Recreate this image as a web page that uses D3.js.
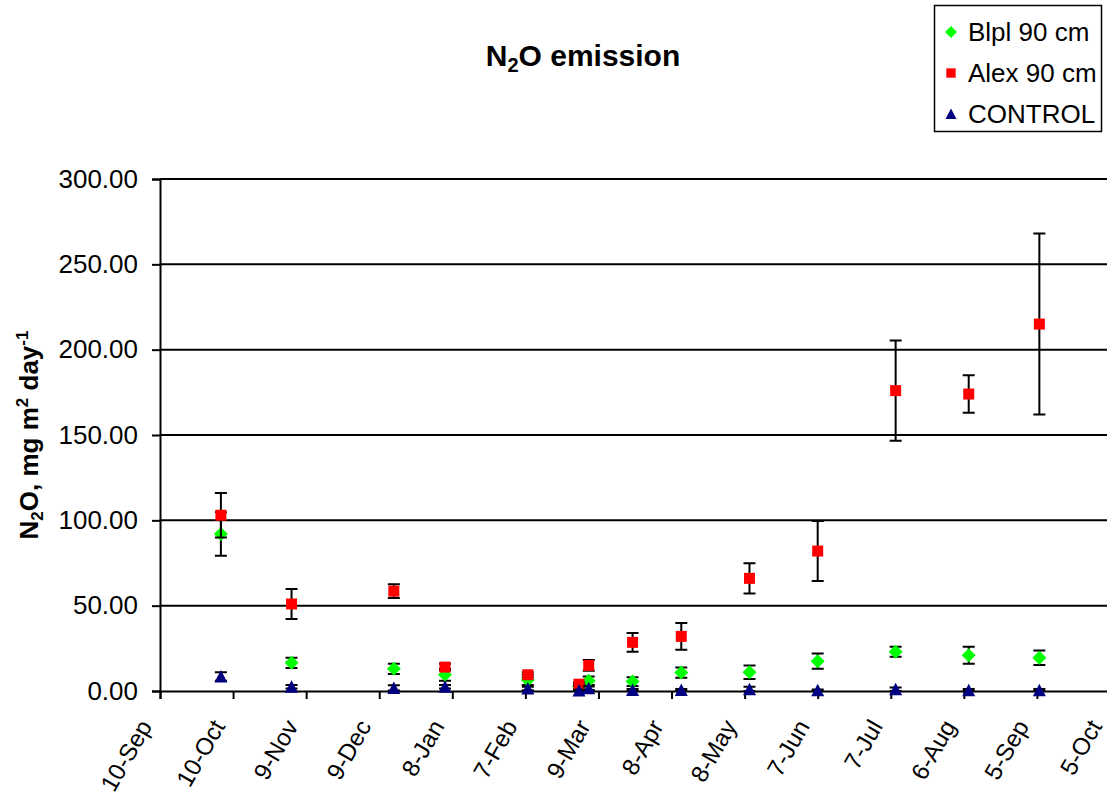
<!DOCTYPE html>
<html>
<head>
<meta charset="utf-8">
<script src="https://cdn.jsdelivr.net/npm/d3@7/dist/d3.min.js"></script>
<style>
    body { margin: 0; background: #fff; }
    svg { display: block; font-family: "Liberation Sans", Arial, sans-serif; }
</style>
</head>
<body>
<svg id="chart" width="1107" height="798"></svg>
<script>
// Sampling dates (day-month)
var sampleDates = ["2006-10-05", "2006-11-03", "2006-12-15", "2007-01-05",
    "2007-02-08", "2007-03-01", "2007-03-05", "2007-03-23", "2007-04-12",
    "2007-05-10", "2007-06-07", "2007-07-09", "2007-08-08", "2007-09-06"];

var blplValues = [92, 16.5, 13, 9.5, 6.5, 2.5, 6, 5.5, 10.8, 11, 17.5, 23, 21, 19.5];
var blplErrors = [12.8, 3, 3, 3.5, 3, 1.5, 2.5, 2.5, 3, 4, 4.5, 3, 5, 4.2];

var alexValues = [103, 51, 58.5, 14, 9.5, 4, 15, 28.5, 32, 66, 82, 176, 174, 215];
var alexErrors = [13, 8.8, 4, 2, 1.5, 1, 3.2, 5.5, 7.8, 8.8, 17.6, 29.3, 11, 53];

var controlValues = [8.5, 2.5, 1.8, 2.5, 1.5, 0.3, 1.6, 0.6, 0.6, 1, 0.4, 1, 0.4, 0.4];
var controlErrors = [2.5, 1, 1.5, 1, 1, 0.5, 1, 0.5, 0.5, 1.5, 0.5, 1, 0.8, 0.8];

var seriesNames = ["Blpl 90 cm", "Alex 90 cm", "CONTROL"];

// x axis: a tick every 30 days starting 10-Sep
var xTickStart = "2006-09-10",
    xTickStep = 30,
    xTickCount = 14;
var yTicks = [0, 50, 100, 150, 200, 250, 300];

var parseDate = d3.timeParse("%Y-%m-%d");
var formatTick = d3.timeFormat("%-d-%b");

var svg = d3.select("#chart");

var margin = { left: 160, right: 1110, top: 179, bottom: 691 };

var start = parseDate(xTickStart);
var xTickValues = d3.range(xTickCount).map(function(i) {
    return d3.timeDay.offset(start, i * xTickStep);
});

var x = d3.scaleTime()
    .domain([xTickValues[0], xTickValues[xTickValues.length - 1]])
    .range([margin.left, margin.right]);

var y = d3.scaleLinear()
    .domain([0, 300])
    .range([margin.bottom, margin.top]);

// Marker shapes, centred on (0, 0)
var markerPath = function(shape) {
    switch (shape) {
        case 'diamond': {
            return "M0,-7L7,0L0,7L-7,0Z";
        }
        case 'square': {
            return "M-5.5,-5.5H5.5V5.5H-5.5Z";
        }
        case 'triangle': {
            return "M0,-6.5L6.5,6L-6.5,6Z";
        }
        default: {
            return "";
        }
    }
};

var series = [
    { name: seriesNames[0], values: blplValues, errors: blplErrors,
      color: "#00ff00", shape: 'diamond' },
    { name: seriesNames[1], values: alexValues, errors: alexErrors,
      color: "#ff0000", shape: 'square' },
    { name: seriesNames[2], values: controlValues, errors: controlErrors,
      color: "#000080", shape: 'triangle' }
];

// Gridlines
svg.append("g")
    .selectAll("line")
    .data(yTicks.filter(function(d) { return d > 0; }))
    .enter().append("line")
        .attr("x1", margin.left)
        .attr("x2", margin.right)
        .attr("y1", function(d) { return y(d); })
        .attr("y2", function(d) { return y(d); })
        .attr("stroke", "#000")
        .attr("stroke-width", 2);

// Y axis
var yAxis = svg.append("g")
    .attr("transform", "translate(" + margin.left + ",0)")
    .call(d3.axisLeft(y)
        .tickValues(yTicks)
        .tickSize(8)
        .tickPadding(14)
        .tickFormat(d3.format(".2f")));
yAxis.select(".domain").attr("stroke-width", 2);
yAxis.selectAll(".tick line").attr("stroke-width", 2);
yAxis.selectAll("text")
    .attr("font-size", 26)
    .attr("font-family", "Liberation Sans, Arial, sans-serif")
    .attr("fill", "#000");

// X axis
var xAxis = svg.append("g")
    .attr("transform", "translate(0," + margin.bottom + ")")
    .call(d3.axisBottom(x)
        .tickValues(xTickValues)
        .tickSize(8)
        .tickFormat(formatTick));
xAxis.select(".domain").attr("stroke-width", 2);
xAxis.selectAll(".tick line").attr("stroke-width", 2);
// rotated labels, ending just left of their tick
xAxis.selectAll("text")
    .attr("font-size", 24)
    .attr("font-family", "Liberation Sans, Arial, sans-serif")
    .attr("fill", "#000")
    .attr("text-anchor", "end")
    .attr("x", -15)
    .attr("y", 31)
    .attr("dy", "0.35em")
    .attr("transform", "rotate(-60,-15,31)");

// Series: error bars first, then markers on top
series.forEach(function(s) {
    var g = svg.append("g").attr("class", "series");
    var pts = sampleDates.map(function(d, i) {
        return { date: parseDate(d), value: s.values[i], error: s.errors[i] };
    });

    g.selectAll(".err")
        .data(pts)
        .enter().append("path")
            .attr("class", "err")
            .attr("fill", "none")
            .attr("stroke", "#000")
            .attr("stroke-width", 2)
            .attr("d", function(d) {
                var cx = x(d.date),
                    top = y(d.value + d.error),
                    bot = y(Math.max(0, d.value - d.error));
                return "M" + (cx - 6) + "," + top + "H" + (cx + 6) +
                    "M" + cx + "," + top + "V" + bot +
                    "M" + (cx - 6) + "," + bot + "H" + (cx + 6);
            });

    g.selectAll(".marker")
        .data(pts)
        .enter().append("path")
            .attr("class", "marker")
            .attr("d", markerPath(s.shape))
            .attr("fill", s.color)
            .attr("transform", function(d) {
                return "translate(" + x(d.date) + "," + y(d.value) + ")";
            });
});

// Title with subscript
var title = svg.append("text")
    .attr("x", 583)
    .attr("y", 66)
    .attr("text-anchor", "middle")
    .attr("font-size", 30)
    .attr("font-weight", "bold");
title.append("tspan").text("N");
title.append("tspan").attr("font-size", 20).attr("dy", 6).text("2");
title.append("tspan").attr("dy", -6).text("O emission");

// Y axis title, rotated
var yTitle = svg.append("text")
    .attr("transform", "translate(38,435) rotate(-90)")
    .attr("text-anchor", "middle")
    .attr("font-size", 26)
    .attr("font-weight", "bold");
yTitle.append("tspan").text("N");
yTitle.append("tspan").attr("font-size", 17).attr("dy", 5).text("2");
yTitle.append("tspan").attr("dy", -5).text("O, mg m");
yTitle.append("tspan").attr("font-size", 17).attr("dy", -10).text("2");
yTitle.append("tspan").attr("dy", 10).text(" day");
yTitle.append("tspan").attr("font-size", 17).attr("dy", -10).text("-1");

// Legend
var legend = svg.append("g").attr("class", "legend");
legend.append("rect")
    .attr("x", 934.5)
    .attr("y", 5.5)
    .attr("width", 167)
    .attr("height", 126)
    .attr("fill", "#fff")
    .attr("stroke", "#000")
    .attr("stroke-width", 1.5);

var legendRows = [32, 73, 114];
series.forEach(function(s, i) {
    legend.append("path")
        .attr("d", markerPath(s.shape))
        .attr("fill", s.color)
        .attr("transform", "translate(951," + legendRows[i] + ") scale(0.85)");
    legend.append("text")
        .attr("x", 968)
        .attr("y", legendRows[i])
        .attr("dy", "0.35em")
        .attr("font-size", 26)
        .text(s.name);
});
</script>
</body>
</html>
